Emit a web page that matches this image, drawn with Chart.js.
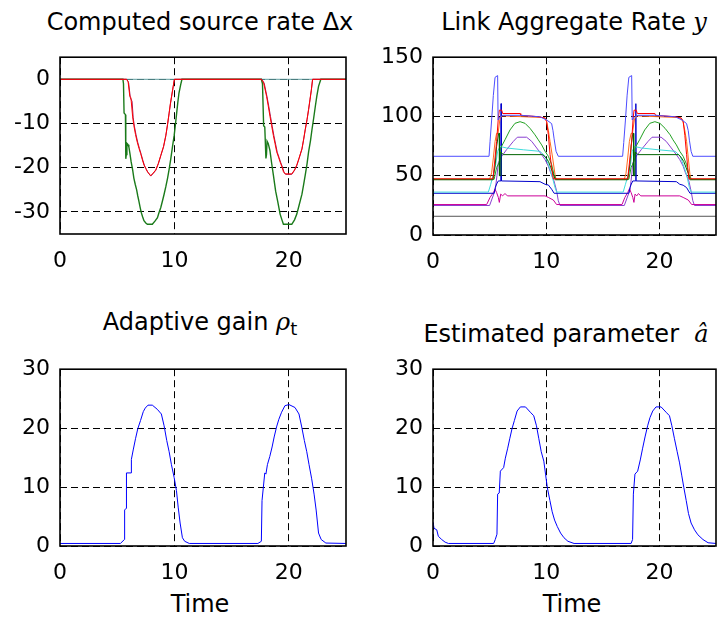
<!DOCTYPE html>
<html>
<head>
<meta charset="utf-8">
<script src="https://cdn.jsdelivr.net/npm/chart.js@4.4.0/dist/chart.umd.min.js"></script>
<style>
  html, body { margin: 0; padding: 0; background: #fff; overflow: hidden; width: 717px; height: 623px; }
  canvas { position: absolute; }
  .lbl { position: absolute; width: 400px; text-align: center; font-family: "DejaVu Sans", sans-serif;
         font-size: 24px; line-height: 24px; color: #000; white-space: pre; }
  .lbl i { font-family: "DejaVu Serif", serif; }
  .lbl sub { font-size: 18px; vertical-align: -5px; line-height: 0; }
</style>
</head>
<body>
<div class="lbl" style="left:0px;top:10px">Computed source rate Δx</div>
<div class="lbl" style="left:374px;top:10px">Link Aggregate Rate <i>y</i></div>
<div class="lbl" style="left:0px;top:310px">Adaptive gain <i>ρ</i><sub>t</sub></div>
<div class="lbl" style="left:366px;top:322px">Estimated parameter  <i>â</i></div>
<div class="lbl" style="left:0px;top:592px">Time</div>
<div class="lbl" style="left:372px;top:592px">Time</div>

<canvas id="cDx"></canvas>
<canvas id="cY"></canvas>
<canvas id="cRho"></canvas>
<canvas id="cA"></canvas>

<script>
// tick labels
const timeTicks = [0, 10, 20];
const dxTicks = [-30, -20, -10, 0];
const yTicks = [0, 50, 100, 150];
const gainTicks = [0, 10, 20, 30];

// Computed source rate (time, value)
const dxTeal = [[0, 0], [25, 0]];
const dxGreen = [[0,0],[5.5,0],[5.55,-1],[5.6,-7.6],[5.72,-8],[5.75,-18],[5.8,-17],[5.85,-14.5],[5.95,-14.8],[6.02,-15.3],[6.1,-16.6],[6.22,-18.7],[6.35,-20.5],[6.46,-22.4],[6.58,-23.8],[6.7,-25],[6.8,-26.4],[6.9,-27.6],[7.0,-28.9],[7.1,-30.1],[7.22,-31.1],[7.34,-32],[7.5,-32.5],[7.64,-32.8],[8.07,-32.8],[8.3,-32.1],[8.52,-31.3],[8.65,-30.2],[8.81,-29],[8.95,-27.6],[9.1,-26],[9.25,-24.3],[9.4,-22.4],[9.55,-20.2],[9.69,-17.9],[9.83,-15.3],[9.98,-12.7],[10.1,-10],[10.2,-7.6],[10.3,-5.2],[10.4,-3.1],[10.55,-1.2],[10.66,0],[17.6,0],[17.7,-1],[17.8,-10.5],[17.9,-10.8],[18.0,-17.9],[18.05,-17],[18.1,-14],[18.2,-14.5],[18.35,-16.1],[18.5,-19],[18.65,-21.6],[18.75,-23.5],[18.85,-25.3],[19.03,-27.6],[19.24,-30.5],[19.4,-31.8],[19.53,-32.8],[20.26,-32.8],[20.5,-31.8],[20.7,-30.5],[20.9,-28.5],[21.15,-26],[21.3,-23.8],[21.44,-21.6],[21.6,-19],[21.73,-16.4],[21.9,-13.8],[22.03,-11.3],[22.18,-8.7],[22.32,-6.1],[22.45,-3.8],[22.6,-1.6],[22.8,0],[25,0]];
const dxRed = [[0,0],[5.8,0],[5.95,-0.5],[6.1,-3.8],[6.2,-4.2],[6.35,-8.5],[6.46,-10.5],[6.6,-12.5],[6.75,-14.2],[6.9,-15.6],[7.05,-16.8],[7.2,-18.2],[7.34,-19.4],[7.5,-20.2],[7.64,-20.9],[7.93,-21.8],[8.15,-21.2],[8.37,-20.5],[8.6,-19],[8.81,-17.2],[9.05,-15.2],[9.25,-12.7],[9.4,-10.2],[9.54,-7.6],[9.65,-5.5],[9.75,-3.9],[9.9,-1.5],[10.0,0],[17.6,0],[17.8,-0.8],[18.06,-3.9],[18.2,-6],[18.35,-8.3],[18.5,-10.5],[18.65,-12.7],[18.8,-14.6],[18.94,-16.4],[19.1,-17.6],[19.24,-18.7],[19.4,-19.8],[19.53,-20.9],[19.68,-21.4],[20.26,-21.4],[20.5,-20.5],[20.7,-19.4],[20.9,-17.8],[21.15,-15.7],[21.3,-13.5],[21.44,-11.3],[21.6,-9],[21.73,-6.8],[21.85,-4.6],[21.97,-2.4],[22.08,0],[25,0]];
const dxMaroon = [[0,0],[5.85,0],[6.0,-0.8],[6.15,-4.2],[6.3,-5],[6.4,-8.7],[6.5,-10.6],[6.65,-12.6],[6.8,-14.3],[6.95,-15.7],[7.1,-17],[7.25,-18.4],[7.4,-19.6],[7.55,-20.4],[7.7,-21.1],[7.93,-21.9],[8.15,-21.3],[8.37,-20.6],[8.6,-19.1],[8.81,-17.3],[9.05,-15.3],[9.25,-12.8],[9.4,-10.3],[9.54,-7.7],[9.65,-5.6],[9.75,-4],[9.9,-1.6],[10.0,0],[17.65,0],[17.85,-0.9],[18.1,-4],[18.25,-6.1],[18.4,-8.4],[18.55,-10.6],[18.7,-12.8],[18.85,-14.7],[18.99,-16.5],[19.15,-17.7],[19.29,-18.8],[19.45,-19.9],[19.58,-21],[19.72,-21.5],[20.26,-21.5],[20.5,-20.6],[20.7,-19.5],[20.9,-17.9],[21.15,-15.8],[21.3,-13.6],[21.44,-11.4],[21.6,-9.1],[21.73,-6.9],[21.85,-4.7],[21.97,-2.5],[22.08,0],[25,0]];

// Link aggregate rate (time, value)
const yGray = [[0, 15.8], [25, 15.8]];
const yMagenta = [[0,25.7],[4.74,25.7],[5.04,31.7],[5.33,35.8],[5.48,38.6],[5.62,35.8],[5.77,31.7],[5.86,27.5],[5.98,34.5],[6.15,33],[6.36,35],[6.57,33],[9.9,33],[10.19,31.7],[10.63,29.5],[10.92,25.7],[16.7,25.7],[16.95,31.7],[17.2,35.8],[17.35,39],[17.5,35.8],[17.65,31.7],[17.75,27.5],[17.85,34.5],[18.0,33],[18.15,35],[18.35,33],[21.8,33],[22.1,31.7],[22.55,29.5],[22.85,25.7],[25,25.7]];
const yPurple = [[0,24.9],[5.0,24.9],[5.5,38],[5.65,50],[5.77,61],[6.07,66.4],[6.5,72],[7.1,79],[7.45,82.5],[8.27,82.5],[8.72,79],[9.16,73.4],[9.6,67.8],[9.9,63.6],[10.19,58],[10.4,52.5],[10.69,45.6],[10.92,37.2],[11.07,28.9],[11.22,24.9],[16.9,24.9],[17.4,38],[17.55,50],[17.65,61],[17.95,66.4],[18.4,72],[19.0,79],[19.35,82.5],[20.15,82.5],[20.6,79],[21.05,73.4],[21.5,67.8],[21.8,63.6],[22.1,58],[22.3,52.5],[22.6,45.6],[22.8,37],[22.95,29],[23.1,24.9],[25,24.9]];
const yDarkBlue = [[0,35.2],[5.4,35.2],[5.5,40],[5.62,43],[5.77,45.6],[6.0,45.6],[6.02,110.8],[6.04,45.6],[9.45,45],[9.9,42.8],[10.19,42.2],[10.48,38.6],[10.7,35.2],[17.3,35.2],[17.4,40],[17.52,43],[17.65,45.6],[17.9,45.6],[17.92,110.8],[17.94,45.6],[21.5,45],[21.8,42.8],[22.1,42],[22.4,40],[22.7,35.2],[25,35.2]];
const yCyan = [[0,36.2],[4.89,36.2],[5.1,42.8],[5.33,51],[5.54,59.5],[5.71,70.6],[5.92,74.7],[6.5,73.4],[7.98,71.9],[9.45,70.6],[9.9,66.4],[10.19,59.5],[10.48,51],[10.78,40],[10.92,36.2],[16.8,36.2],[17.0,42.8],[17.25,51],[17.45,59.5],[17.6,70.6],[17.8,74.7],[18.4,73.4],[19.9,71.9],[21.4,70.6],[21.85,66.4],[22.1,59.5],[22.4,51],[22.65,40],[22.8,36.2],[25,36.2]];
const yDarkGreen = [[0,46.6],[5.3,46.6],[5.5,60],[5.62,75],[5.8,85.8],[5.86,85.8],[5.87,50],[5.95,50],[6.0,70],[6.2,67.8],[9.7,67.8],[10.0,65],[10.2,62],[10.4,57],[10.6,52],[10.8,46.6],[17.2,46.6],[17.4,60],[17.5,75],[17.65,85.8],[17.72,85.8],[17.73,50],[17.82,50],[17.88,70],[18.1,67.8],[21.7,67.8],[21.95,65],[22.15,62],[22.35,57],[22.55,52],[22.7,46.6],[25,46.6]];
const yGreen = [[0,47],[5.4,47],[5.62,57],[5.9,62],[5.98,73.4],[6.36,80.3],[6.8,88.6],[7.24,94.2],[7.69,95.6],[8.13,94.2],[8.57,90],[9.01,84.5],[9.3,80.3],[9.6,76],[9.9,70.6],[10.19,66.4],[10.48,59.5],[10.69,51],[10.87,47],[17.3,47],[17.5,57],[17.75,62],[17.85,73.4],[18.25,80.3],[18.7,88.6],[19.15,94.2],[19.6,95.6],[20.05,94.2],[20.5,90],[20.95,84.5],[21.2,80.3],[21.5,76],[21.8,70.6],[22.1,66.4],[22.4,59.5],[22.6,51],[22.8,47],[25,47]];
const yOrange = [[0,47],[5.0,47],[5.18,52.5],[5.33,65],[5.48,78.9],[5.62,85.8],[5.75,85.8],[5.92,98.4],[6.1,100.5],[9.9,99],[10.04,95.6],[10.2,88],[10.34,78.9],[10.57,65],[10.78,51],[10.87,47],[16.9,47],[17.05,52],[17.2,65],[17.35,79],[17.5,85.8],[17.62,85.8],[17.8,98],[18.0,100.5],[21.9,99],[22.1,95],[22.25,88],[22.4,79],[22.55,65],[22.7,51],[22.8,47],[25,47]];
const yRed = [[0,47.4],[5.3,47.4],[5.48,65],[5.62,78.9],[5.77,98.4],[5.86,105.3],[6.07,105.3],[6.15,102.5],[7.69,102.5],[7.75,101],[9.45,99.7],[9.9,98.4],[10.04,95.6],[10.19,84.5],[10.34,67.8],[10.48,56.7],[10.63,47.4],[17.2,47.4],[17.4,65],[17.55,79],[17.68,98.4],[17.76,105.3],[17.95,105.3],[18.05,102.5],[19.6,102.5],[19.65,101],[21.5,99.7],[21.95,98.4],[22.1,96],[22.25,84],[22.4,68],[22.5,57],[22.6,47.4],[25,47.4]];
const yLightBlue = [[0,66.4],[4.95,66.4],[5.04,78.9],[5.18,97],[5.33,117.8],[5.48,133],[5.71,134.5],[5.75,97],[5.92,99.7],[6.2,101],[7.7,101],[9.45,99.7],[10.04,97],[10.48,94],[10.6,88],[10.69,81.7],[10.87,70.6],[11.07,66.4],[16.75,66.4],[16.85,78],[17.0,97],[17.15,118],[17.3,133],[17.55,134.5],[17.6,97],[17.8,99.7],[18.1,101],[19.6,101],[21.4,99.7],[22.0,97],[22.4,94],[22.55,88],[22.65,80],[22.8,70.6],[22.95,66.4],[25,66.4]];

// Adaptive gain rho_t (time, value)
const rhoGain = [[0,0.43],[5.28,0.43],[5.63,1.1],[5.65,6.1],[5.78,6.4],[5.81,12.4],[6.22,12.4],[6.24,14.7],[6.4,16.3],[6.6,18.2],[6.8,19.9],[7.04,21.3],[7.28,22.8],[7.45,23.4],[7.69,23.9],[8.07,23.9],[8.5,23.2],[8.86,22.4],[9.1,20.4],[9.33,17.9],[9.54,16],[9.74,13.8],[9.98,11.6],[10.18,9.4],[10.33,6.6],[10.5,3.9],[10.7,1.4],[10.9,0.8],[11.3,0.43],[17.3,0.43],[17.6,0.8],[17.66,7.7],[17.9,12.4],[18.0,12.2],[18.13,13.8],[18.34,15.2],[18.54,16.8],[18.72,18.5],[18.93,20.2],[19.13,21.5],[19.37,22.7],[19.66,23.8],[20.01,24.0],[20.54,23.5],[20.89,22.4],[21.13,20.2],[21.36,17.9],[21.57,16],[21.77,13.8],[22.0,11.4],[22.21,8.8],[22.39,6.1],[22.6,2.2],[22.83,1.1],[23.24,0.5],[25,0.43]];

// Estimated parameter a-hat (time, value)
const aHat = [[0,4.1],[0.09,3.0],[0.33,2.75],[0.47,1.65],[0.77,1.1],[1.07,0.65],[1.36,0.43],[5.36,0.43],[5.5,1.1],[5.65,2.0],[5.71,8.8],[5.85,9.0],[5.95,12.7],[6.24,13.3],[6.39,14.9],[6.6,16.6],[6.78,18.2],[6.98,19.9],[7.19,21.3],[7.43,22.9],[7.72,23.6],[8.17,23.6],[8.6,22.7],[8.9,22.1],[9.14,20.4],[9.35,18.2],[9.56,16],[9.79,14.4],[9.94,12.2],[10.1,9.9],[10.33,7.7],[10.53,5.8],[10.74,4.4],[10.98,3.3],[11.27,2.2],[11.57,1.4],[11.92,0.8],[12.46,0.43],[17.5,0.43],[17.63,1.1],[17.7,8.8],[17.84,12.2],[18.08,12.7],[18.31,14.6],[18.52,16.6],[18.73,18.5],[18.96,20.4],[19.17,21.8],[19.41,22.9],[19.7,23.6],[20.15,23.6],[20.59,22.7],[20.89,22.1],[21.1,20.4],[21.33,18.2],[21.57,16],[21.78,14.1],[21.98,11.9],[22.16,9.9],[22.37,7.7],[22.57,5.5],[22.8,3.9],[23.1,2.75],[23.4,1.9],[23.85,1.1],[24.3,0.55],[25,0.43]];

// box round the plot area, like matlab axes
const frame = {
  id: "frame",
  afterDatasetsDraw(chart) {
    const { ctx, chartArea: a } = chart;
    ctx.save();
    ctx.strokeStyle = "#000";
    ctx.lineWidth = 1.6;
    ctx.strokeRect(a.left, a.top, a.right - a.left, a.bottom - a.top);
    ctx.restore();
  }
};

function line(points, color, width) {
  return {
    data: points.map(p => ({ x: p[0], y: p[1] })),
    borderColor: color,
    borderWidth: width || 1,
    pointRadius: 0,
    tension: 0,
    fill: false
  };
}

// Chart.js paints the first dataset last, so lists go top-most first
function makeChart(id, box, datasets, yTickList, yMin, yMax) {
  const canvas = document.getElementById(id);
  const w = box.right - box.left + 70;
  const h = box.bottom - box.top + 65;
  canvas.width = w;
  canvas.height = h;
  canvas.style.left = (box.left - 60) + "px";
  canvas.style.top = (box.top - 20) + "px";
  const font = { family: "DejaVu Sans", size: 22 };
  return new Chart(canvas, {
    type: "line",
    data: { datasets: datasets },
    options: {
      responsive: false,
      animation: false,
      devicePixelRatio: 1,
      layout: { padding: { top: 20, right: 10, left: 0, bottom: 0 }, autoPadding: false },
      plugins: { legend: { display: false }, tooltip: { enabled: false } },
      scales: {
        x: {
          type: "linear", min: 0, max: 25,
          afterBuildTicks: s => { s.ticks = timeTicks.map(v => ({ value: v })); },
          afterFit: s => { s.height = 45; },
          grid: { color: "#000", lineWidth: 1, drawTicks: false },
          border: { display: false, dash: [7, 4] },
          ticks: { font: font, color: "#000", padding: 14, maxRotation: 0, autoSkip: false }
        },
        y: {
          type: "linear", min: yMin, max: yMax,
          afterBuildTicks: s => { s.ticks = yTickList.map(v => ({ value: v })); },
          afterFit: s => { s.width = 60; },
          grid: { color: "#000", lineWidth: 1, drawTicks: false },
          border: { display: false, dash: [7, 4] },
          ticks: { font: font, color: "#000", padding: 10 }
        }
      }
    },
    plugins: [frame]
  });
}

makeChart("cDx", { left: 60, top: 54, right: 346, bottom: 234 }, [
  line(dxRed, "#ff0000"),
  line(dxMaroon, "#a3195b"),
  line(dxGreen, "#1a7a1a", 1.4),
  line(dxTeal, "#5f9ea0")
], dxTicks, -35, 5);

makeChart("cY", { left: 433, top: 54, right: 716, bottom: 235 }, [
  line(yLightBlue, "#4d4dff"),
  line(yRed, "#ff0000"),
  line(yDarkGreen, "#006400"),
  line(yGreen, "#22a022"),
  line(yOrange, "#ff6a1a"),
  line(yCyan, "#40dcdc"),
  line(yDarkBlue, "#0000cc"),
  line(yMagenta, "#cc0099"),
  line(yPurple, "#8a3fd1"),
  line(yGray, "#555555")
], yTicks, 0, 150);

makeChart("cRho", { left: 60, top: 366, right: 346, bottom: 546 }, [
  line(rhoGain, "#0000ff")
], gainTicks, 0, 30);

makeChart("cA", { left: 433, top: 366, right: 716, bottom: 546 }, [
  line(aHat, "#0000ff")
], gainTicks, 0, 30);
</script>
</body>
</html>
